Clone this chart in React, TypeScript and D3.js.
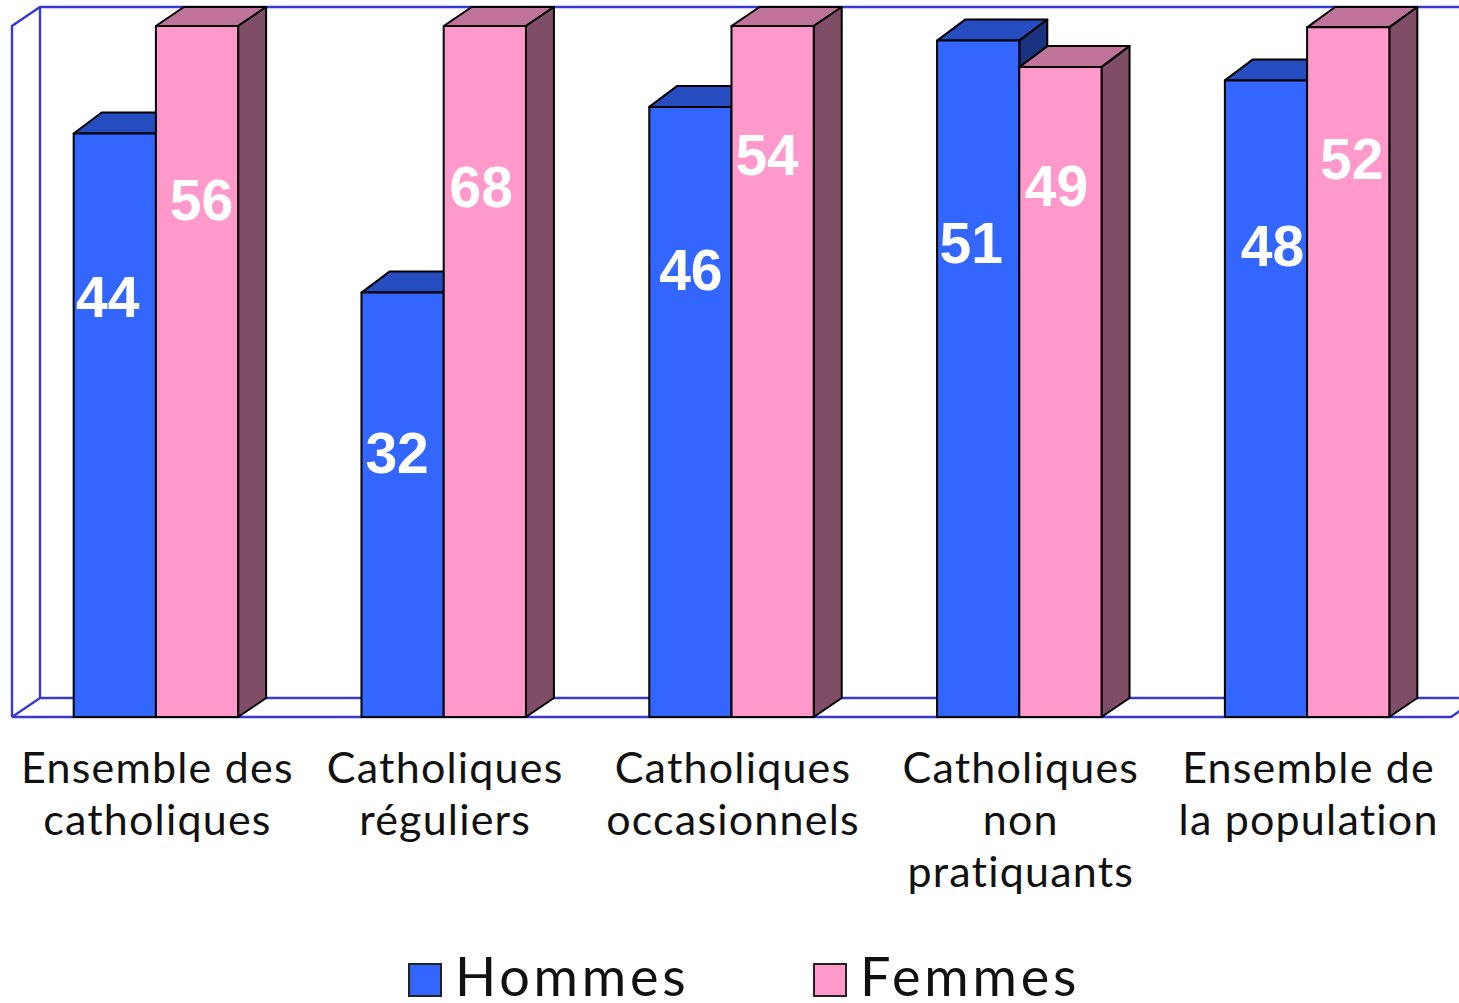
import { useEffect, useRef } from 'react';
import * as d3 from 'd3';

const categories = [
  ['Ensemble des', 'catholiques'],
  ['Catholiques', 'réguliers'],
  ['Catholiques', 'occasionnels'],
  ['Catholiques', 'non', 'pratiquants'],
  ['Ensemble de', 'la population'],
];
const seriesNames = ['Hommes', 'Femmes'];
const hommes = [44, 32, 46, 51, 48];
const femmes = [56, 68, 54, 49, 52];
// the original axis stops at about 52, taller bars are cut off there
const axisMax = 52.1;

const fills = ['#3366ff', '#ff99cc'];
const topFills = ['#264dbf', '#bf7399'];
const sideFills = ['#1a3380', '#804d66'];
const wallColor = '#3a3acc';

// hand placed labels in the original: [dx from bar centre, dy from bar top]
const labelNudges = [
  [[-7, 164], [-5.5, 160], [0.5, 163], [-7, 202], [6.5, 166]],
  [[4.5, 174], [-3.5, 161], [-5.5, 129], [-4, 119], [3.5, 132]],
];

const TEXT_FONT = '"Lato", "Noto Sans", sans-serif';
const VALUE_FONT = '"Liberation Sans", Arial, sans-serif';

export default function App() {
  const svgRef = useRef<SVGSVGElement>(null);

  useEffect(() => {
    if (!svgRef.current) return;

    const width = 1459;
    const height = 1003;
    const depthX = 28;
    const depthY = 19;
    const topDepthY = 21;
    const floorY = 717;
    const roofY = 26;
    const left = 12;
    const right = 1451;

    const svg = d3.select(svgRef.current);
    svg.selectAll('*').remove();
    svg.attr('width', width).attr('height', height);

    const groupKeys = categories.map((c) => c.join(' '));
    const x0 = d3.scaleBand<string>().domain(groupKeys).range([left, right]);
    const x1 = d3
      .scaleBand<string>()
      .domain(seriesNames)
      .range([0, x0.bandwidth()])
      .paddingInner(0)
      .paddingOuter(0.75);
    const y = d3.scaleLinear().domain([0, axisMax]).range([floorY, roofY]).clamp(true);

    // Walls and floor
    svg
      .append('path')
      .attr('fill', 'none')
      .attr('stroke', wallColor)
      .attr('stroke-width', 2.4)
      .attr(
        'd',
        `M${left},${floorY}V${roofY}L${left + depthX},${roofY - depthY}` +
          `H${right + depthX}V${floorY - depthY}H${left + depthX}` +
          `V${roofY - depthY}` +
          `M${left},${floorY}L${left + depthX},${floorY - depthY}` +
          `M${left},${floorY}H${right}L${right + depthX},${floorY - depthY}`,
      );

    const box = (g: d3.Selection<SVGGElement, unknown, null, undefined>, bx: number, bw: number, top: number, s: number) => {
      const path = (d: string, fill: string) =>
        g
          .append('path')
          .attr('d', d)
          .attr('fill', fill)
          .attr('stroke', '#000')
          .attr('stroke-width', 2)
          .attr('stroke-linejoin', 'round');
      // back edge of the top face, never above the roof
      const backY = Math.max(top - topDepthY, roofY - depthY);
      path(
        `M${bx},${top}L${bx + depthX},${backY}h${bw}L${bx + bw},${top}Z`,
        topFills[s],
      );
      path(
        `M${bx + bw},${top}L${bx + bw + depthX},${backY}V${floorY - depthY}l${-depthX},${depthY}Z`,
        sideFills[s],
      );
      path(`M${bx},${top}h${bw}V${floorY}h${-bw}Z`, fills[s]);
    };

    // Bars
    groupKeys.forEach((key, i) => {
      const g = svg.append('g').attr('transform', `translate(${x0(key)},0)`);
      [hommes[i], femmes[i]].forEach((v, s) => {
        box(g, x1(seriesNames[s])!, x1.bandwidth(), y(v), s);
      });
    });

    // Value labels
    groupKeys.forEach((key, i) => {
      [hommes[i], femmes[i]].forEach((v, s) => {
        const [dx, dy] = labelNudges[s][i];
        svg
          .append('text')
          .attr('x', x0(key)! + x1(seriesNames[s])! + x1.bandwidth() / 2 + dx)
          .attr('y', y(v) + dy)
          .attr('text-anchor', 'middle')
          .attr('dominant-baseline', 'central')
          .attr('font-family', VALUE_FONT)
          .attr('font-weight', 700)
          .attr('font-size', 57)
          .attr('fill', '#fff')
          .text(v);
      });
    });

    // Category labels
    categories.forEach((lines, i) => {
      const cx = x0(groupKeys[i])! + x0.bandwidth() / 2 + 1.5;
      lines.forEach((line, j) => {
        svg
          .append('text')
          .attr('x', cx)
          .attr('y', 783 + j * 52)
          .attr('text-anchor', 'middle')
          .attr('font-family', TEXT_FONT)
          .attr('font-size', 43)
          .attr('letter-spacing', 1.2)
          .attr('fill', '#111')
          .text(line);
      });
    });

    // Legend
    const legendX = d3.scaleOrdinal<string, number>().domain(seriesNames).range([409, 814]);
    seriesNames.forEach((name, s) => {
      svg
        .append('rect')
        .attr('x', legendX(name))
        .attr('y', 964)
        .attr('width', 32)
        .attr('height', 32)
        .attr('fill', fills[s])
        .attr('stroke', '#222')
        .attr('stroke-width', 2);
      svg
        .append('text')
        .attr('x', legendX(name) + 46)
        .attr('y', 996)
        .attr('font-family', TEXT_FONT)
        .attr('font-size', 54)
        .attr('letter-spacing', 3.8)
        .attr('fill', '#111')
        .text(name);
    });
  }, []);

  return <svg ref={svgRef} style={{ position: 'absolute', left: 0, top: 0 }} />;
}
